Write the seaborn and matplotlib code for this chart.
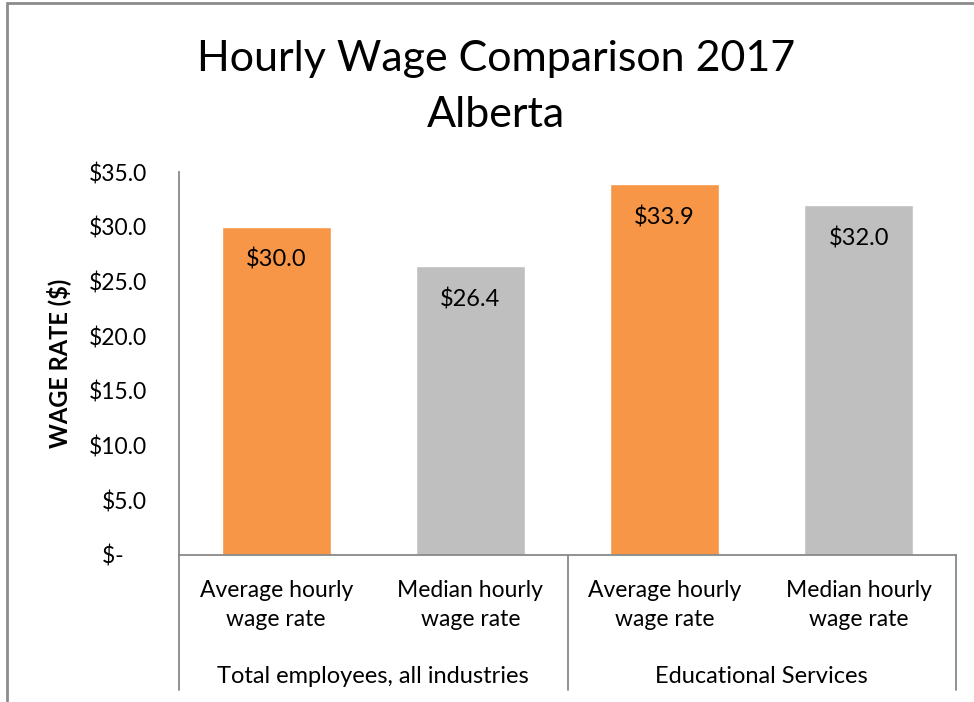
import pandas as pd
from matplotlib import pyplot as plt
from matplotlib.patches import Rectangle
import seaborn as sns

# data
groups = ['Total employees, all industries', 'Educational Services']
measures = ['Average hourly\nwage rate', 'Median hourly\nwage rate']
wages = [30.0, 26.4, 33.9, 32.0]
yticks = [0, 5, 10, 15, 20, 25, 30, 35]

df = pd.DataFrame({
    'slot': [0, 1, 2, 3],
    'group': [groups[0], groups[0], groups[1], groups[1]],
    'measure': measures * 2,
    'wage': wages,
})

sns.set_style('white')
plt.rcParams['font.family'] = ['Lato', 'DejaVu Sans']
plt.rcParams['text.color'] = 'black'
plt.rcParams['axes.labelcolor'] = 'black'
plt.rcParams['xtick.color'] = 'black'
plt.rcParams['ytick.color'] = 'black'

fig = plt.figure(figsize=(9.74, 7.02), dpi=100)
ax = fig.add_axes([179 / 974, 1 - 555 / 702, 777 / 974, 383 / 702])

sns.barplot(data=df, x='slot', y='wage', hue='measure',
            palette=['#F79646', '#BFBFBF'], dodge=False, width=0.56,
            legend=False, ax=ax, saturation=1)

ax.set_ylim(0, 35)
ax.set_xlim(-0.5, 3.5)
ax.set_yticks(yticks)
ax.set_yticklabels(['$-    '] + ['${:.1f}'.format(v) for v in yticks[1:]], fontsize=16.5)
ax.set_xticks(range(4))
ax.set_xticklabels(measures * 2, fontsize=16.5, linespacing=1.5)
ax.tick_params(axis='x', length=0, pad=18)
ax.tick_params(axis='y', length=0, pad=23)
ax.set_xlabel('')
ax.set_ylabel('WAGE RATE ($)', fontsize=17, fontweight='bold', labelpad=13)

for s in ['top', 'right']:
    ax.spines[s].set_visible(False)
for s in ['left', 'bottom']:
    ax.spines[s].set_color('#898989')
    ax.spines[s].set_linewidth(1.3)

# value labels inside the top of each bar
for i, v in enumerate(wages):
    ax.annotate('${:.1f}'.format(v), (i, v), xytext=(0, -16),
                textcoords='offset points', ha='center', va='top', fontsize=17)

# two-level category axis: group labels and separators
trans = ax.get_xaxis_transform()
for x in [-0.5, 1.5, 3.5]:
    ax.plot([x, x], [0, -0.352], transform=trans, color='#898989',
            lw=1.3, clip_on=False)
for j, g in enumerate(groups):
    ax.text(2 * j + 0.5, -0.316, g, transform=trans, ha='center',
            va='center', fontsize=17)

fig.text(496 / 974, 1 - 87 / 702, 'Hourly Wage Comparison 2017\nAlberta',
         ha='center', va='center', fontsize=31, linespacing=1.6)

# chart-area border (only left and top edges fall inside the picture)
fig.patches.append(Rectangle((7 / 974, -0.1), 1.2, 1.1 - 3 / 702,
                             transform=fig.transFigure, fill=False,
                             edgecolor='#8c8c8c', lw=2))

plt.savefig('out.png', dpi=100)
